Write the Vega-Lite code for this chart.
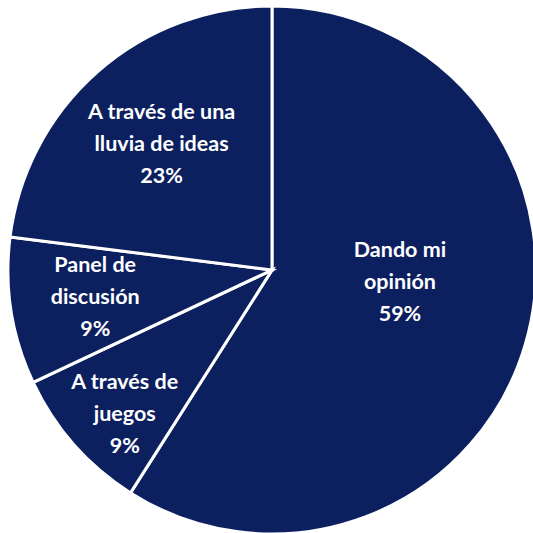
{
  "$schema": "https://vega.github.io/schema/vega-lite/v6.json",
  "autosize": {"type": "fit", "contains": "padding"},
  "width": 533,
  "height": 533,
  "padding": {"left": 11, "right": 0, "top": 7, "bottom": 0},
  "background": "white",
  "config": {"view": {"stroke": null}},
  "data": {
    "values": [
      {"id": 1, "category": "Dando mi opinión", "value": 59, "label": "Dando mi\nopinión\n59%"},
      {"id": 2, "category": "A través de juegos", "value": 9, "label": "A través de\njuegos\n9%"},
      {"id": 3, "category": "Panel de discusión", "value": 9, "label": "Panel de\ndiscusión\n9%"},
      {"id": 4, "category": "A través de una lluvia de ideas", "value": 23, "label": "A través de una\nlluvia de ideas\n23%"}
    ]
  },
  "encoding": {
    "theta": {"field": "value", "type": "quantitative", "stack": true},
    "order": {"field": "id", "type": "ordinal"}
  },
  "layer": [
    {
      "mark": {"type": "arc", "radius": 264, "fill": "#0c2060", "stroke": "white", "strokeWidth": 3}
    },
    {
      "mark": {
        "type": "text",
        "font": "Lato",
        "fontWeight": "bold",
        "fontSize": 21.5,
        "fill": "white",
        "lineBreak": "\n",
        "lineHeight": 32,
        "align": "center",
        "baseline": "middle",
        "radius": {"expr": "datum.id === 1 ? 127 : datum.id === 2 ? 207 : datum.id === 3 ? 179 : 167"},
        "dx": {"expr": "datum.id === 1 ? 6 : datum.id === 2 ? 8 : 0"},
        "dy": {"expr": "datum.id === 1 ? -54 : datum.id === 2 ? -24 : -32"}
      },
      "encoding": {
        "text": {"field": "label", "type": "nominal"}
      }
    }
  ]
}
